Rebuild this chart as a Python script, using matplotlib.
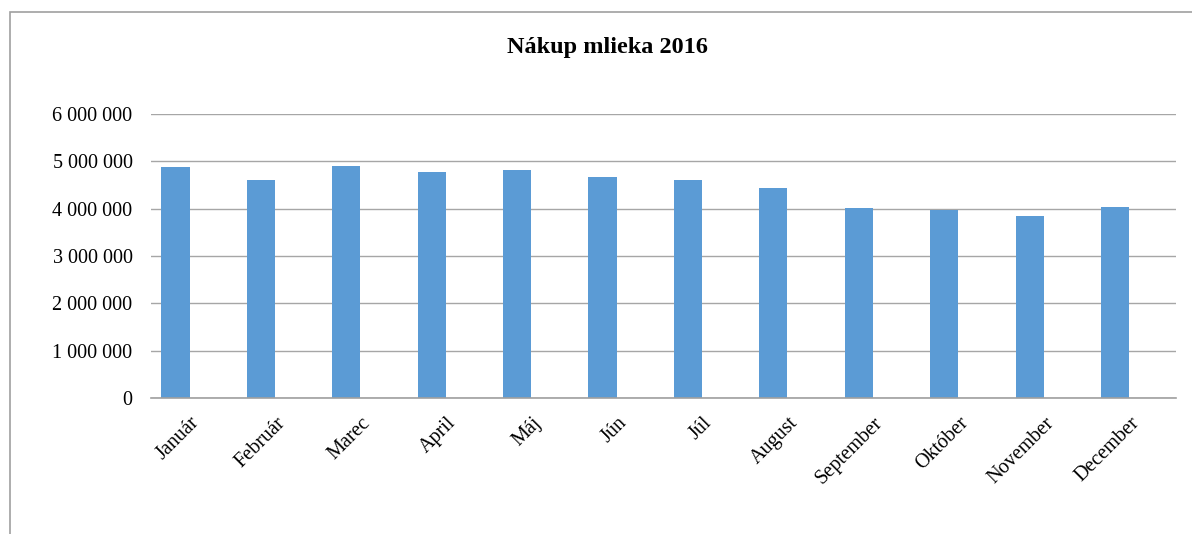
import matplotlib
matplotlib.use("Agg")
import matplotlib.pyplot as plt
import numpy as np
from matplotlib.patches import Rectangle

# Mesiace a nákup mlieka (odčítané z grafu)
mesiace = ["Január", "Február", "Marec", "April", "Máj", "Jún", "Júl",
           "August", "September", "Október", "November", "December"]
nakup = [4873000, 4605000, 4908000, 4767000, 4817000, 4661000, 4605000,
         4436000, 4013000, 3963000, 3850000, 4034000]
y_ticks = [0, 1000000, 2000000, 3000000, 4000000, 5000000, 6000000]
titulok = "Nákup mlieka 2016"

plt.rcParams['font.family'] = ['Liberation Serif', 'DejaVu Serif']

fig = plt.figure(figsize=(11.92, 5.34), dpi=100)
ax = fig.add_axes([0.1264, 0.2547, 0.8599, 0.5318])

x = np.arange(len(mesiace))
ax.bar(x, nakup, width=0.33, color='#5B9BD5', zorder=3)

ax.set_xlim(-0.29, 11.71)
ax.set_ylim(0, 6000000)
ax.set_yticks(y_ticks)
ax.set_yticklabels(['{:,}'.format(v).replace(',', ' ') for v in y_ticks], fontsize=14.5)
ax.yaxis.grid(True, color='#a6a6a6', linewidth=1, zorder=0)
ax.tick_params(axis='y', length=0, pad=13)

ax.set_xticks(x + 0.25)
ax.set_xticklabels(mesiace, fontsize=14.5, rotation=45, ha='right', va='center',
                   rotation_mode='anchor')
ax.tick_params(axis='x', length=0, pad=16)

for s in ['top', 'right', 'left']:
    ax.spines[s].set_visible(False)
ax.spines['bottom'].set_color('#a0a0a0')
ax.spines['bottom'].set_linewidth(1.2)
ax.spines['bottom'].set_zorder(4)

fig.text(607 / 1192, 1 - 48 / 534, titulok, fontsize=17.5, fontweight='bold',
         ha='center', va='center')

# rámček grafu
fig.patches.append(Rectangle((9.5 / 1192, -0.1), 1.2, 1 - 12.5 / 534 + 0.1,
                             transform=fig.transFigure, fill=False,
                             edgecolor='#a0a0a0', linewidth=1.2))

fig.savefig('out.png', dpi=100)
